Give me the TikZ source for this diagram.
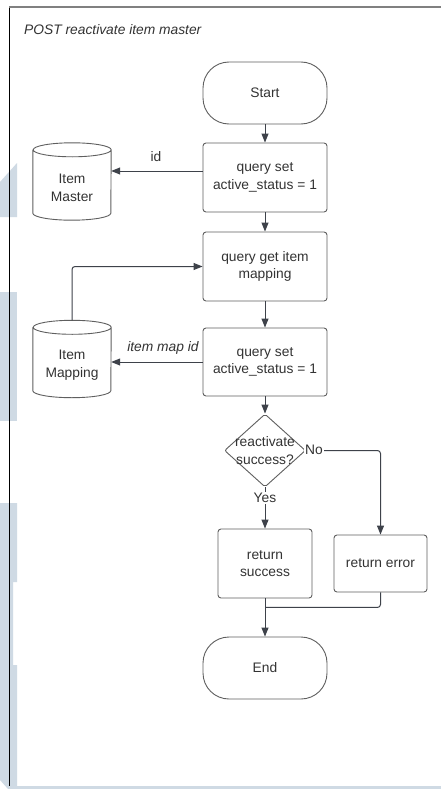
\documentclass[tikz,border=0pt]{standalone}
\usepackage{fontspec}
\setmainfont{Liberation Sans}
\usetikzlibrary{arrows.meta,shapes.geometric}
\definecolor{wm}{RGB}{207,218,228}
\definecolor{ink}{RGB}{51,51,51}
\definecolor{edge}{RGB}{62,66,74}
\definecolor{bord}{RGB}{95,95,95}
\begin{document}
\begin{tikzpicture}[x=1pt,y=1pt,
  txt/.style={font=\fontsize{13.8}{17.7}\selectfont, text=ink, align=center},
  proc/.style={txt, draw=bord, line width=0.9pt, rounded corners=3pt, minimum width=124pt, minimum height=69pt, inner sep=0pt},
  term/.style={txt, draw=bord, line width=0.9pt, rounded corners=26pt, minimum width=124pt, minimum height=62pt, inner sep=0pt},
  cyl/.style={minimum width=78pt, minimum height=77pt, inner sep=0pt},
  cylline/.style={draw=bord, line width=0.9pt, fill=white},
  arr/.style={draw=edge, line width=1pt, -{Triangle[length=9pt,width=7pt]}, rounded corners=3pt},
  ln/.style={draw=edge, line width=1pt, rounded corners=3pt},
  lab/.style={txt, inner sep=1pt},
  itlab/.style={lab, font=\fontsize{13.8}{17.7}\selectfont\itshape}]

\useasboundingbox (0,0) rectangle (441,-789);
\fill[white] (0,0) rectangle (441,-789);

% watermark bands
\fill[wm] (0,-182) -- (17,-163) -- (17,-217) -- (0,-217) -- cycle;
\fill[wm] (0,-292) rectangle (17,-421);
\fill[wm] (0,-503) -- (17,-503) -- (17,-582) -- (13,-582) -- (13,-665) -- (17,-665) -- (17,-789) -- (8,-789) -- (0,-780) -- cycle;
\fill[wm] (9,-786) rectangle (441,-789);

% frame
\draw[black, line width=1pt] (9.5,-7) -- (9.5,-786);
\draw[gray, line width=1.7pt] (9,-7) -- (441,-7);

% title
\node[itlab, anchor=west] (title) at (23,-30) {POST reactivate item master};

% main flow
\node[term] (start) at (265,-93) {Start};
\node[proc] (q1) at (265,-177.5) {query set\\active\_status = 1};
\node[proc] (q2) at (265,-266.5) {query get item\\mapping};
\node[proc, minimum height=68pt] (q3) at (265,-362) {query set\\active\_status = 1};
\node[diamond, draw=bord, line width=0.9pt, rounded corners=2pt, minimum width=81pt, minimum height=73pt, inner sep=0pt] (dec) at (265,-450.5) {};
\node[txt] (dectext) at (dec) {reactivate\\success?};
\node[proc, minimum width=94pt] (rs) at (265,-563.5) {return\\success};
\node[proc, minimum width=93pt, minimum height=57pt] (re) at (380.5,-563.5) {return error};
\node[term] (end) at (265,-668) {End};

% databases
\node[cyl] (im) at (72,-181.5) {};
\draw[cylline] ([yshift=-7pt]im.north west) -- ([yshift=7pt]im.south west)
  arc[start angle=180,end angle=360,x radius=39pt,y radius=7pt]
  -- ([yshift=-7pt]im.north east)
  arc[start angle=0,end angle=360,x radius=39pt,y radius=7pt];
\node[txt] (imtext) at ([yshift=-6.5pt]im.center) {Item\\Master};

\node[cyl] (imap) at (72,-359) {};
\draw[cylline] ([yshift=-7pt]imap.north west) -- ([yshift=7pt]imap.south west)
  arc[start angle=180,end angle=360,x radius=39pt,y radius=7pt]
  -- ([yshift=-7pt]imap.north east)
  arc[start angle=0,end angle=360,x radius=39pt,y radius=7pt];
\node[txt] (imaptext) at ([yshift=-6pt]imap.center) {Item\\Mapping};

% connectors
\coordinate (q1w) at ([yshift=6.5pt]q1.west);
\coordinate (merge) at ([yshift=-9pt]rs.south);

\draw[arr] (start) -- (q1);
\draw[arr] (q1w) -- (q1w -| im.east);
\draw[arr] (q1) -- (q2);
\draw[arr] (imap.north) |- (q2.west);
\draw[arr] (q2) -- (q3);
\draw[arr] (q3.west) -- (q3.west -| imap.east);
\draw[arr] (q3) -- (dec);
\draw[arr] (dec.east) -| (re.north);
\draw[arr] (dec.south) -- (rs.north);
\draw[arr] (rs.south) -- (end.north);
\draw[ln] (re.south) |- (merge);

% labels
\node[lab] (lid) at (156,-157) {id};
\node[itlab] (lmap) at (163,-348) {item map id};
\node[lab, fill=white] (lno) at (314,-449.5) {No};
\node[lab, fill=white] (lyes) at (265,-498) {Yes};
\end{tikzpicture}
\end{document}
